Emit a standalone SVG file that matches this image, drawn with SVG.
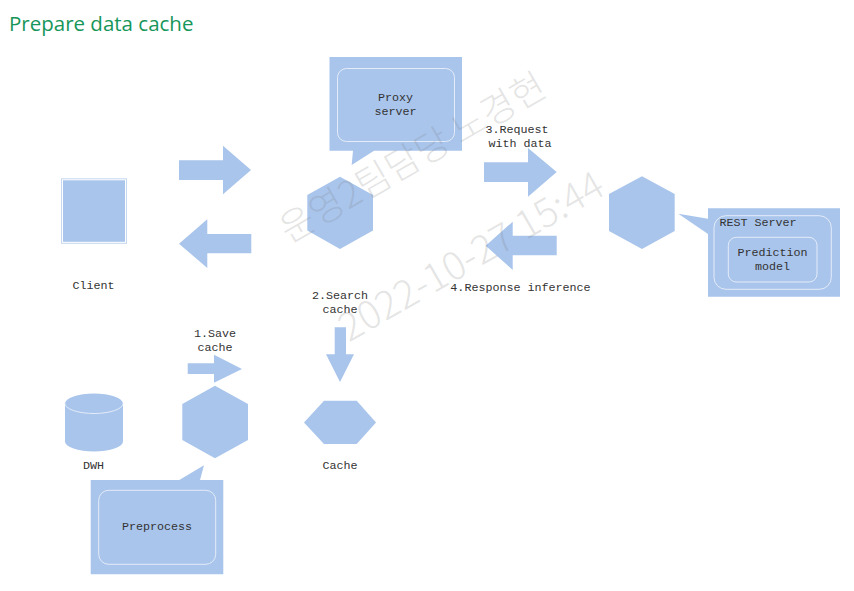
<svg xmlns="http://www.w3.org/2000/svg" width="854" height="591" viewBox="0 0 854 591">
<style>
.s{fill:#a9c5ec}
.w{fill:none;stroke:#e4ecf8;stroke-width:1}
.t{font-family:"Liberation Mono",monospace;font-size:11.7px;fill:#333;text-anchor:middle}
.wm{font-family:"Noto Sans CJK KR","Noto Sans",sans-serif;font-weight:300;font-size:37px;fill:#777;fill-opacity:.2;text-anchor:middle}
</style>
<rect width="854" height="591" fill="#fff"/>
<text x="9" y="31" font-family="Open Sans,sans-serif" font-size="20.5px" fill="#16965a">Prepare data cache</text>
<g id="connectors">
<polygon class="s" points="179,160.3 223,160.3 223,145.7 251,170 223,194.3 223,180 179,180"/>
<polygon class="s" points="179,243.7 207.3,219.3 207.3,234 251.3,234 251.3,253.3 207.3,253.3 207.3,268"/>
<polygon class="s" points="484,162.3 528,162.3 528,148 556.7,172 528,196.7 528,182 484,182"/>
<polygon class="s" points="485.7,245.7 512.7,221.7 512.7,235.7 556.7,235.7 556.7,255.3 512.7,255.3 512.7,270"/>
<polygon class="s" points="187.7,363.3 214,363.3 214,354.7 242,369 214,382.7 214,374 187.7,374"/>
<polygon class="s" points="334.7,327.3 346,327.3 346,354.3 354,354.3 340,382 326,354.3 334.7,354.3"/>
</g>
<g id="client"><rect x="61.5" y="178.8" width="65" height="64.5" fill="#fff" stroke="#c6d7f1"/><rect x="63" y="180.3" width="62" height="61.5" class="s"/><text class="t" x="93.5" y="288.5">Client</text></g>
<g id="proxy-hex"><polygon class="s" points="340,176.7 373,195 373,230.5 340,249 307.3,230.5 307.3,195"/></g>
<g id="proxy-server"><polygon class="s" points="329.5,57 462,57 462,150.7 374,150.7 351.7,165 353,150.7 329.5,150.7"/><rect class="w" x="337.5" y="68.5" width="117" height="73" rx="9"/><text class="t" x="395.5" y="101">Proxy</text><text class="t" x="395.5" y="115">server</text></g>
<g id="rest-hex"><polygon class="s" points="642,176.3 674.7,194 674.7,231 642,249 609,231 609,194"/></g>
<g id="rest-server"><polygon class="s" points="708,208.3 840,208.3 840,296.7 708,296.7 708,234 678.3,213.7 708,218.7"/><rect class="w" x="714" y="215.7" width="117.3" height="73.6" rx="12"/><text class="t" x="758" y="225.5">REST Server</text><rect class="w" x="728.3" y="237.3" width="88.7" height="44.7" rx="8"/><text class="t" x="772.5" y="256">Prediction</text><text class="t" x="772.5" y="270">model</text></g>
<g id="preprocess-hex"><polygon class="s" points="215,385.7 248,404 248,440 215,458.3 182.3,440 182.3,404"/></g>
<g id="preprocess"><polygon class="s" points="90.7,480 179.3,480 204,465.3 200,480 223.3,480 223.3,574.3 90.7,574.3"/><rect class="w" x="98.7" y="490.3" width="117" height="74" rx="10"/><text class="t" x="157" y="529.5">Preprocess</text></g>
<g id="cache"><polygon class="s" points="324,400.7 356.7,400.7 376,422.5 356.7,444 324,444 304,422.5"/><text class="t" x="340" y="468.5">Cache</text></g>
<g id="dwh"><path class="s" d="M65,403.5 A29,10 0 0 1 123,403.5 V441.5 A29,10 0 0 1 65,441.5 Z"/><path class="w" d="M65,403.5 A29,10 0 0 0 123,403.5"/><text class="t" x="93.5" y="468.5">DWH</text></g>
<g id="labels">
<text class="t" x="215" y="337">1.Save</text><text class="t" x="215" y="351">cache</text>
<text class="t" x="517" y="133">3.Request</text><text class="t" x="520" y="147">with data</text>
<text class="t" x="340" y="299">2.Search</text><text class="t" x="340" y="313">cache</text>
<text class="t" x="520.5" y="291">4.Response inference</text>
</g>
<g id="watermark">
<text class="wm" transform="rotate(-30 419 169)" x="419" y="169">운영2팀담당 노경현</text>
<text class="wm" style="font-size:39.5px" transform="rotate(-30 478 268)" x="478" y="268">2022-10-27 15:44</text>
</g>
</svg>
